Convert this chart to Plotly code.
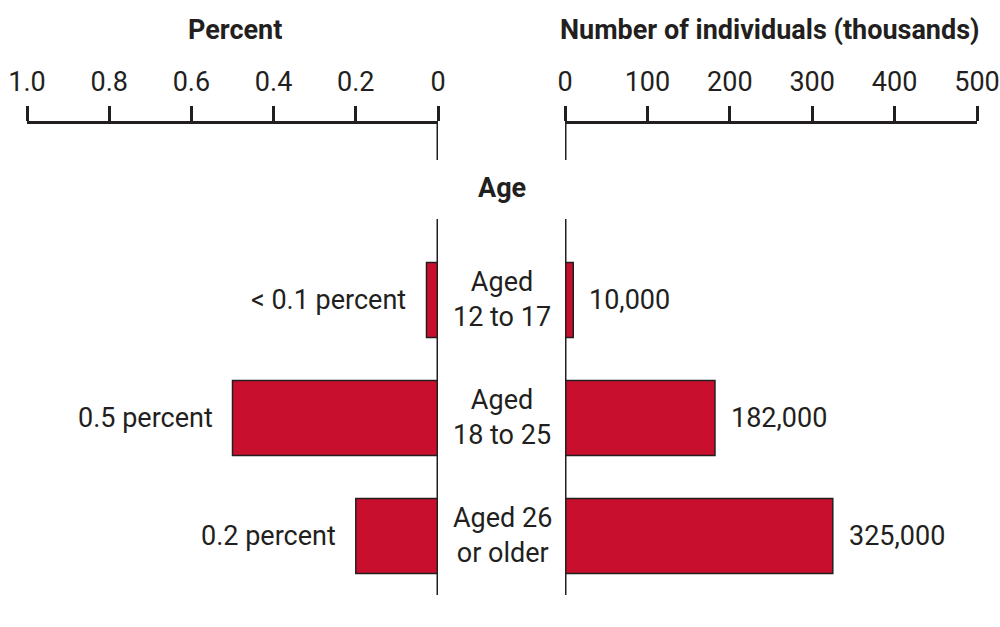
import plotly.graph_objects as go

# ---- data ----
age_groups = ["Aged<br>12 to 17", "Aged<br>18 to 25", "Aged 26<br>or older"]
percent_values = [0.028, 0.5, 0.2]
percent_labels = ["< 0.1 percent", "0.5 percent", "0.2 percent"]
number_values = [10, 182, 325]          # thousands
number_labels = ["10,000", "182,000", "325,000"]
percent_ticks = [0, 0.2, 0.4, 0.6, 0.8, 1.0]
percent_ticktext = ["0", "0.2", "0.4", "0.6", "0.8", "1.0"]
number_ticks = [0, 100, 200, 300, 400, 500]
number_ticktext = ["0", "100", "200", "300", "400", "500"]

FONT = "Roboto, Liberation Sans Narrow, DejaVu Sans Condensed, sans-serif"
FS = 27
INK = "#231f20"
RED = "#c8102e"
H = 627.0

def py(pix):
    return 1 - pix / H

fig = go.Figure()
fig.add_trace(go.Bar(
    y=age_groups, x=percent_values, orientation="h", xaxis="x", yaxis="y",
    marker=dict(color=RED, line=dict(color=INK, width=1.5)), width=0.636,
    hoverinfo="skip", showlegend=False))
fig.add_trace(go.Bar(
    y=age_groups, x=number_values, orientation="h", xaxis="x2", yaxis="y",
    marker=dict(color=RED, line=dict(color=INK, width=1.5)), width=0.636,
    hoverinfo="skip", showlegend=False))

axis_common = dict(
    side="top", anchor="free", position=py(122), showline=True, linewidth=3,
    linecolor=INK, ticks="outside", ticklen=15, tickwidth=3, tickcolor=INK,
    showgrid=False, zeroline=False, fixedrange=True, automargin=False,
    tickfont=dict(family=FONT, size=FS, color=INK), ticklabelstandoff=4,
)

annotations = []
# value labels
for cat, v, t in zip(age_groups, percent_values, percent_labels):
    annotations.append(dict(xref="x", yref="y", x=v, y=cat, text=t, showarrow=False,
                            xanchor="right", xshift=-18,
                            font=dict(family=FONT, size=FS, color=INK)))
for cat, v, t in zip(age_groups, number_values, number_labels):
    annotations.append(dict(xref="x2", yref="y", x=v, y=cat, text=t, showarrow=False,
                            xanchor="left", xshift=14,
                            font=dict(family=FONT, size=FS, color=INK)))
# center category labels
for cat in age_groups:
    annotations.append(dict(xref="paper", yref="y", x=0.502, y=cat, text=cat, showarrow=False,
                            xanchor="center", align="center",
                            font=dict(family=FONT, size=FS, color=INK)))
# titles
annotations.append(dict(xref="paper", yref="paper", x=0.2345, y=py(30), text="<b>Percent</b>",
                        showarrow=False, xanchor="center", yanchor="middle",
                        font=dict(family=FONT, size=FS, color=INK)))
annotations.append(dict(xref="paper", yref="paper", x=0.770, y=py(30),
                        text="<b>Number of individuals (thousands)</b>",
                        showarrow=False, xanchor="center", yanchor="middle",
                        font=dict(family=FONT, size=FS, color=INK)))
annotations.append(dict(xref="paper", yref="paper", x=0.502, y=py(188), text="<b>Age</b>",
                        showarrow=False, xanchor="center", yanchor="middle",
                        font=dict(family=FONT, size=FS, color=INK)))

shapes = []
for xr in ["x", "x2"]:
    shapes.append(dict(type="line", xref=xr, x0=0, x1=0, yref="paper", y0=py(160), y1=py(122),
                       line=dict(color=INK, width=3)))
    shapes.append(dict(type="line", xref=xr, x0=0, x1=0, yref="y domain", y0=0, y1=1,
                       line=dict(color=INK, width=3)))

fig.update_layout(
    width=1000, height=627,
    margin=dict(l=0, r=0, t=0, b=0, autoexpand=False),
    paper_bgcolor="white", plot_bgcolor="white",
    bargap=0,
    xaxis=dict(domain=[0.027, 0.438], range=[1.0, 0], tickvals=percent_ticks,
               ticktext=percent_ticktext, **axis_common),
    xaxis2=dict(domain=[0.565, 0.977], range=[0, 500], tickvals=number_ticks,
                ticktext=number_ticktext, **axis_common),
    yaxis=dict(domain=[py(595), py(219)], type="category", categoryorder="array",
               categoryarray=age_groups, range=[2.5, -0.686], visible=False,
               fixedrange=True, automargin=False),
    annotations=annotations,
    shapes=shapes,
)

fig.write_html(
    "out.html",
    config={"displayModeBar": False, "staticPlot": True},
    post_script="document.body.style.margin='0';document.body.style.padding='0';"
                "document.documentElement.style.overflow='hidden';",
)
